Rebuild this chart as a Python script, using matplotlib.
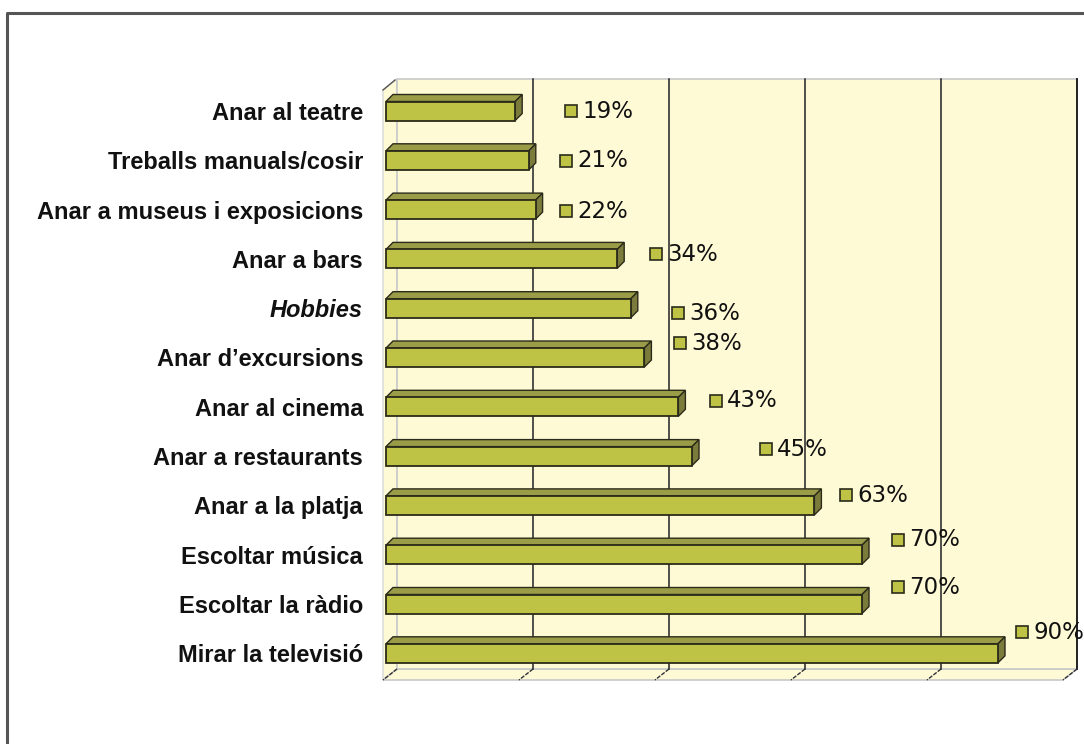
import numpy as np
import matplotlib
matplotlib.use('Agg')
import matplotlib.pyplot as plt
from matplotlib.patches import Polygon, Rectangle

categories = ['Anar al teatre', 'Treballs manuals/cosir', 'Anar a museus i exposicions',
              'Anar a bars', 'Hobbies', 'Anar d\u2019excursions', 'Anar al cinema',
              'Anar a restaurants', 'Anar a la platja', 'Escoltar música',
              'Escoltar la ràdio', 'Mirar la televisió']
values = [19, 21, 22, 34, 36, 38, 43, 45, 63, 70, 70, 90]

# where Excel dropped the data labels (percent, row)
label_x = [25.6, 24.9, 24.9, 38.1, 41.3, 41.6, 46.9, 54.3, 66.1, 73.7, 73.7, 91.9]
label_y = [0.0, 1.01, 2.03, 2.91, 4.10, 4.71, 5.88, 6.86, 7.79, 8.70, 9.66, 10.57]

front_col = '#bec346'
top_col = '#9a9c48'
side_col = '#7b7c3c'
wall_col = '#fffad6'
edge_col = '#2b2b1a'

W, H = 1084, 744
fig = plt.figure(figsize=(W / 100, H / 100), dpi=100)

# outer frame
frame = fig.add_axes([0, 0, 1, 1])
frame.set_xlim(0, W)
frame.set_ylim(H, 0)
frame.axis('off')
frame.plot([7, 7, W + 5], [H + 5, 13, 13], color='#555555', lw=2.2)

# axes in pixel box 370..1084 x 60..700
px0, px1, py0, py1 = 370, 1084, 60, 700
ax = fig.add_axes([px0 / W, 1 - py1 / H, (px1 - px0) / W, (py1 - py0) / H])
ppx = 6.8    # pixels per percent
ppr = 49.3   # pixels per row
x0px, r0px = 397, 111
ax.set_xlim((px0 - x0px) / ppx, (px1 - x0px) / ppx)
ax.set_ylim((py1 - r0px) / ppr, (py0 - r0px) / ppr)
for s in ax.spines.values():
    s.set_visible(False)
ax.set_xticks([])
ax.patch.set_alpha(0)

def dx(p):
    return p / ppx

def dy(p):
    return p / ppr

wall_top = dy(79 - r0px)
wall_bot = dy(669 - r0px)
fdx, fdy = dx(-14), dy(11)

# left wall and floor
ax.add_patch(Polygon([(0, wall_top), (0, wall_bot), (fdx, wall_bot + fdy), (fdx, wall_top + fdy)],
                     closed=True, fc=wall_col, ec='#d8d8d8', lw=1, zorder=0))
ax.add_patch(Polygon([(0, wall_bot), (100, wall_bot), (100 + fdx, wall_bot + fdy), (fdx, wall_bot + fdy)],
                     closed=True, fc=wall_col, ec='#c8c8c8', lw=1.2, zorder=0))
# back wall
ax.add_patch(Rectangle((0, wall_top), 100, wall_bot - wall_top, fc=wall_col, ec='#c8c8c8',
                       lw=1.2, zorder=0))
ax.plot([100, 100], [wall_top, wall_bot], color='#222222', lw=1.4, zorder=1)
for g in [20, 40, 60, 80]:
    ax.plot([g, g], [wall_top, wall_bot], color='#222222', lw=1.1, zorder=1)
for g in [0, 20, 40, 60, 80, 100]:
    ax.plot([g, g + fdx], [wall_bot, wall_bot + fdy], color='#333333', lw=1.0,
            ls=(0, (3, 1)), zorder=1)
ax.plot([fdx, fdx + dx(12)], [wall_top + fdy, wall_top + fdy - dy(10)], color='#555555', lw=1, zorder=1)

# bars (front face via barh, top and side faces as polygons)
bh = dy(19)
ddx, ddy = dx(7), dy(-7)
start = dx(386 - x0px)
rows = np.arange(len(values))
ax.barh(rows, values, left=start, height=bh, color=front_col, edgecolor=edge_col, lw=1.3, zorder=3)
for r, v in zip(rows, values):
    xl, xr = start, start + v
    yt, yb = r - bh / 2, r + bh / 2
    ax.add_patch(Polygon([(xl, yt), (xr, yt), (xr + ddx, yt + ddy), (xl + ddx, yt + ddy)],
                         closed=True, fc=top_col, ec=edge_col, lw=1.0, zorder=2))
    ax.add_patch(Polygon([(xr, yt), (xr + ddx, yt + ddy), (xr + ddx, yb + ddy), (xr, yb)],
                         closed=True, fc=side_col, ec=edge_col, lw=1.0, zorder=2))

# data labels
for lx, ly, v in zip(label_x, label_y, values):
    ax.plot(lx, ly, marker='s', ms=8.5, mfc=front_col, mec=edge_col, mew=1.2, zorder=4)
    ax.annotate('%d%%' % v, (lx, ly), xytext=(8, 0), textcoords='offset points',
                ha='left', va='center', fontsize=16.5, family='DejaVu Sans',
                color='#111111', zorder=4, annotation_clip=False)

# category labels
ax.set_yticks(rows)
ax.set_yticklabels(categories, fontsize=17, fontweight='bold', family='Liberation Sans',
                   color='#111111')
ax.tick_params(axis='y', length=0, pad=5)
ax.get_yticklabels()[4].set_fontstyle('italic')

fig.savefig('out.png', dpi=100)
